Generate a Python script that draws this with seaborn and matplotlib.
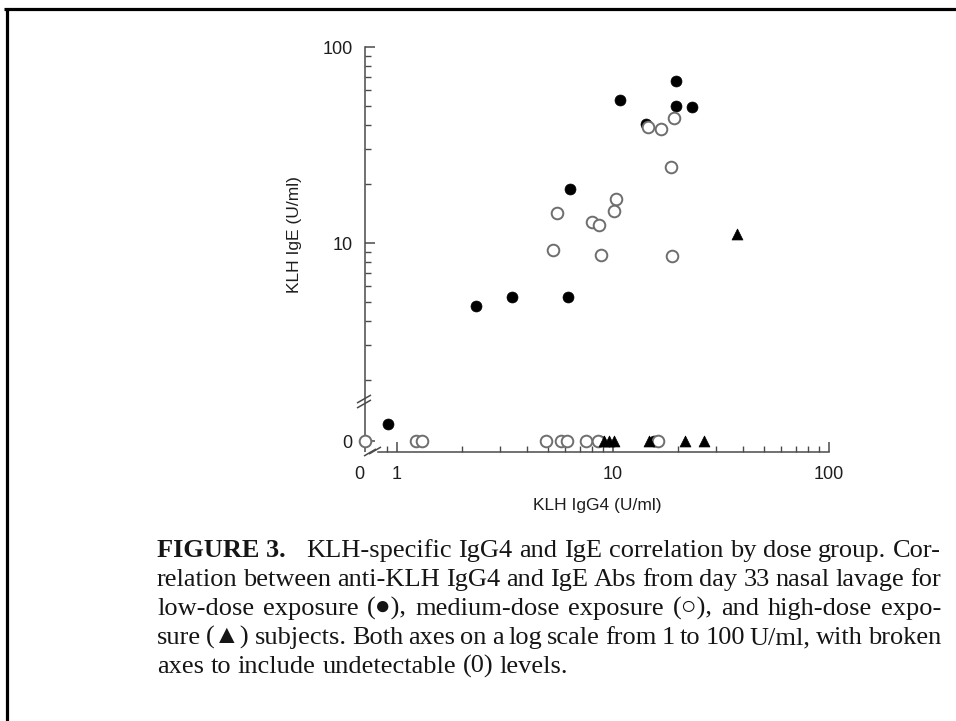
import matplotlib
matplotlib.use("Agg")
import numpy as np
import pandas as pd
import matplotlib.pyplot as plt
from matplotlib.lines import Line2D
from matplotlib.transforms import ScaledTranslation
import seaborn as sns

# KLH IgG4 / IgE (U/ml) per subject; 0 = undetectable
low_igg4 = [19.6, 10.8, 19.6, 23.1, 14.2, 6.3, 2.31, 3.42, 6.17, 0.91, 8.7, 15.4]
low_ige = [67.1, 53.7, 50.2, 49.6, 40.3, 18.9, 4.79, 5.30, 5.30, 1.19, 0, 0]

med_igg4 = [14.5, 16.7, 19.2, 18.6, 5.49, 10.3, 10.1, 7.97, 8.59, 5.29, 8.83, 18.8,
            0, 1.23, 1.30, 4.90, 5.74, 6.14, 7.50, 8.55, 16.2]
med_ige = [39.2, 38.0, 43.6, 24.4, 14.3, 16.8, 14.6, 12.8, 12.3, 9.21, 8.68, 8.58,
           0, 0, 0, 0, 0, 0, 0, 0, 0]

high_igg4 = [37.5, 9.1, 9.6, 10.1, 14.7, 21.5, 26.4]
high_ige = [11.1, 0, 0, 0, 0, 0, 0]

x_tick_labels = ["0", "1", "10", "100"]
y_tick_labels = ["0", "10", "100"]
x_label = "KLH IgG4 (U/ml)"
y_label = "KLH IgE (U/ml)"

caption_lines = [
    "KLH-specific IgG4 and IgE correlation by dose group. Cor-",
    "relation between anti-KLH IgG4 and IgE Abs from day 33 nasal lavage for",
    "low-dose exposure (\u25cf), medium-dose exposure (\u25cb), and high-dose expo-",
    "sure (\u25b2) subjects. Both axes on a log scale from 1 to 100 U/ml, with broken",
    "axes to include undetectable (0) levels.",
]
caption_head = "FIGURE 3."

# Broken-axis layout: log scales, with zero drawn just below/left of the break
XLIM = (10 ** (-32 / 216), 100.0)
YLIM = (10 ** (2 - 405 / 196), 100.0)
X_ZERO = XLIM[0]
Y_ZERO = 10 ** (2 - 394 / 196)


def prep(igg4, ige, group):
    df = pd.DataFrame({"igg4": igg4, "ige": ige})
    df["x"] = np.where(df["igg4"] == 0, X_ZERO, df["igg4"])
    df["y"] = np.where(df["ige"] == 0, Y_ZERO, df["ige"])
    df["group"] = group
    return df


low = prep(low_igg4, low_ige, "low")
med = prep(med_igg4, med_ige, "medium")
high = prep(high_igg4, high_ige, "high")

sns.set_theme(style="ticks")
plt.rcParams["font.family"] = ["Liberation Sans", "DejaVu Sans"]

W, H = 956, 721
fig = plt.figure(figsize=(W / 100, H / 100), dpi=100)
fig.patch.set_facecolor("white")

ax_l, ax_r, ax_t, ax_b = 365, 829, 47, 452
ax = fig.add_axes([ax_l / W, 1 - ax_b / H, (ax_r - ax_l) / W, (ax_b - ax_t) / H])
ax.set_facecolor("white")
ax.set_xscale("log")
ax.set_yscale("log")

sns.scatterplot(data=low, x="x", y="y", ax=ax, marker="o", s=62,
                color="black", edgecolor="black", linewidth=0.5,
                clip_on=False, zorder=3, legend=False)
sns.scatterplot(data=med, x="x", y="y", ax=ax, marker="o", s=70,
                facecolor="white", edgecolor="#6e6e6e", linewidth=1.4,
                clip_on=False, zorder=4, legend=False)
sns.scatterplot(data=high, x="x", y="y", ax=ax, marker="^", s=62,
                color="black", edgecolor="black", linewidth=0.5,
                clip_on=False, zorder=5, legend=False)

ax.set_xlim(*XLIM)
ax.set_ylim(*YLIM)

axis_color = "#4a4a4a"
for side in ("top", "right"):
    ax.spines[side].set_visible(False)
for side in ("left", "bottom"):
    ax.spines[side].set_color(axis_color)
    ax.spines[side].set_linewidth(1.1)
ax.spines["left"].set_bounds(10 ** (2 - 400 / 196), 100)
ax.spines["bottom"].set_bounds(10 ** (-19 / 216), 100)

ax.set_xticks([X_ZERO, 1, 10, 100])
ax.set_xticklabels(x_tick_labels)
ax.set_xticks([0.9] + list(range(2, 10)) + list(range(20, 100, 10)), minor=True)
ax.set_yticks([Y_ZERO, 10, 100])
ax.set_yticklabels(y_tick_labels)
ax.set_yticks(list(range(2, 10)) + list(range(20, 100, 10)), minor=True)
ax.xaxis.set_minor_formatter(matplotlib.ticker.NullFormatter())
ax.yaxis.set_minor_formatter(matplotlib.ticker.NullFormatter())

ax.tick_params(which="major", direction="in", length=7, width=1.1,
               color=axis_color, labelsize=13, labelcolor="#1e1e1e")
ax.tick_params(axis="x", which="major", pad=10)
ax.tick_params(axis="y", which="major", pad=9)
ax.tick_params(which="minor", direction="in", length=4, width=1.0, color=axis_color)

# the "0" under the broken x axis sits a little left of the corner
zero_lbl = ax.xaxis.get_majorticklabels()[0]
zero_lbl.set_transform(zero_lbl.get_transform()
                       + ScaledTranslation(-0.055, 0, fig.dpi_scale_trans))

ax.set_xlabel(x_label, fontsize=12.5, color="#1e1e1e")
ax.set_ylabel(y_label, fontsize=12.5, color="#1e1e1e")
ax.xaxis.set_label_coords(0.5, (ax_b - 498) / (ax_b - ax_t))
ax.yaxis.set_label_coords((302 - ax_l) / (ax_r - ax_l), (ax_b - 235) / (ax_b - ax_t))


def px_line(x0, y0, x1, y1, lw=1.1, color=axis_color):
    fig.add_artist(Line2D([x0 / W, x1 / W], [1 - y0 / H, 1 - y1 / H],
                          transform=fig.transFigure, color=color, lw=lw,
                          solid_capstyle="butt"))


# axis break marks
for cy in (399, 404):
    px_line(357, cy + 4, 371, cy - 4)
for cx, cy in ((370, 452), (375, 450)):
    px_line(cx - 6, cy + 4, cx + 6, cy - 3)

# page frame (top and left rules)
px_line(4, 8.5, W, 8.5, lw=2.3, color="black")
px_line(7, 8.5, 7, H, lw=2.3, color="black")

# caption, justified between fixed margins
SERIF = ["Liberation Serif", "DejaVu Sans"]
CAP_SIZE = 19
CAP_LEFT, CAP_RIGHT = 157, 941
baselines = [557, 586, 615, 644, 673]

fig.canvas.draw()
renderer = fig.canvas.get_renderer()


def set_line(tokens, base, justify, lead_gap=0.0):
    objs = [fig.text(0, 1 - base / H, w, fontsize=CAP_SIZE, fontweight=wt,
                     family=SERIF, va="baseline", ha="left", color="#151515")
            for w, wt in tokens]
    widths = [o.get_window_extent(renderer).width for o in objs]
    if justify and len(objs) > 1:
        gap = (CAP_RIGHT - CAP_LEFT - sum(widths) - lead_gap) / (len(objs) - 1)
    else:
        gap = CAP_SIZE * 100 / 72 * 0.25
    x = CAP_LEFT
    for i, (o, wd) in enumerate(zip(objs, widths)):
        o.set_x(x / W)
        x += wd + gap + (lead_gap if i == 0 else 0)


for i, (line, base) in enumerate(zip(caption_lines, baselines)):
    tokens = [(w, "normal") for w in line.split()]
    if i == 0:
        set_line([(caption_head, "bold")] + tokens, base, True, lead_gap=14)
    else:
        set_line(tokens, base, i < len(caption_lines) - 1)

fig.savefig("out.png", dpi=100, facecolor="white")
